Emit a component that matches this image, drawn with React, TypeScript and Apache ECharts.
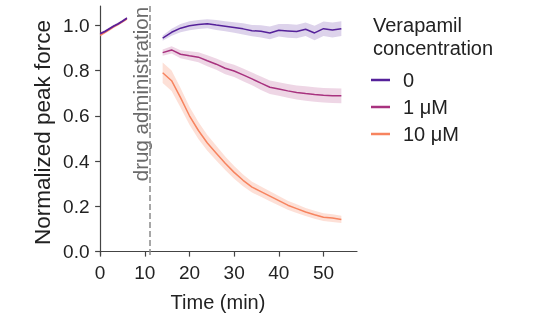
import React, { useEffect, useRef } from "react";
import * as echarts from "echarts";

const timePre = [0, 1, 2, 3, 4, 5, 6];
const timePost = [14, 16, 18, 20, 22, 24, 26, 28, 30, 32, 34, 36, 38, 40, 42, 44, 46, 48, 50, 52, 54];

const ctrlPre = [0.963, 0.972, 0.984, 0.996, 1.006, 1.018, 1.031];
const oneUMPre = [0.962, 0.971, 0.983, 0.995, 1.005, 1.017, 1.030];
const tenUMPre = [0.955, 0.967, 0.980, 0.993, 1.004, 1.016, 1.028];
const errPre = [0.006, 0.006, 0.006, 0.006, 0.006, 0.006, 0.006];

const ctrlPost = [0.943, 0.969, 0.987, 0.998, 1.003, 1.007, 1.001, 0.996, 0.99, 0.984, 0.976, 0.973, 0.966, 0.978, 0.975, 0.972, 0.982, 0.966, 0.985, 0.979, 0.985];
const oneUMPost = [0.879, 0.891, 0.872, 0.865, 0.859, 0.843, 0.828, 0.81, 0.798, 0.781, 0.763, 0.744, 0.726, 0.718, 0.71, 0.703, 0.698, 0.694, 0.691, 0.689, 0.688];
const tenUMPost = [0.79, 0.755, 0.68, 0.6, 0.535, 0.48, 0.435, 0.39, 0.35, 0.315, 0.285, 0.265, 0.245, 0.225, 0.205, 0.19, 0.175, 0.163, 0.152, 0.148, 0.142];

const ctrlErr = [0.012, 0.015, 0.018, 0.02, 0.02, 0.02, 0.022, 0.022, 0.023, 0.025, 0.025, 0.027, 0.028, 0.028, 0.03, 0.03, 0.03, 0.032, 0.032, 0.033, 0.033];
const oneUMErr = [0.014, 0.016, 0.018, 0.02, 0.022, 0.024, 0.025, 0.026, 0.027, 0.028, 0.028, 0.03, 0.03, 0.03, 0.03, 0.031, 0.032, 0.032, 0.032, 0.033, 0.033];
const tenUMErr = [0.045, 0.045, 0.043, 0.04, 0.038, 0.035, 0.033, 0.03, 0.028, 0.026, 0.024, 0.023, 0.022, 0.021, 0.02, 0.019, 0.018, 0.018, 0.017, 0.017, 0.016];

const seriesNames = ["0", "1 μM", "10 μM"];
const yTicks = [0, 0.2, 0.4, 0.6, 0.8, 1.0];
const xTicks = [0, 10, 20, 30, 40, 50];
const drugTime = 11;

const colors = ["#55219a", "#a8327f", "#f7845f"];
const bandColors = ["rgba(85,33,154,0.2)", "rgba(168,50,127,0.2)", "rgba(247,132,95,0.25)"];

const FONT = "Liberation Sans, Arial, sans-serif";

function bandSeries(id: string, times: number[], vals: number[], errs: number[], color: string) {
  return {
    type: "custom",
    name: id,
    silent: true,
    z: 1,
    data: [[times[0], vals[0]]],
    renderItem: (_params: any, api: any) => {
      const upper = times.map((t, i) => api.coord([t, vals[i] + errs[i]]));
      const lower = times.map((t, i) => api.coord([t, vals[i] - errs[i]])).reverse();
      return {
        type: "polygon",
        shape: { points: upper.concat(lower) },
        style: { fill: color },
      };
    },
  };
}

function lineSeries(name: string, times: number[], vals: number[], color: string) {
  return {
    type: "line",
    name,
    data: times.map((t, i) => [t, vals[i]]),
    symbol: "none",
    lineStyle: { width: 1.5, color },
    itemStyle: { color },
    z: 3,
  };
}

export default function App() {
  const ref = useRef<HTMLDivElement>(null);
  useEffect(() => {
    if (!ref.current) return;
    const chart = echarts.init(ref.current, null, { renderer: "svg" });
    const pre = [ctrlPre, oneUMPre, tenUMPre];
    const post = [ctrlPost, oneUMPost, tenUMPost];
    const postErr = [ctrlErr, oneUMErr, tenUMErr];
    const series: any[] = [];
    for (let k = 2; k >= 0; k--) {
      series.push(bandSeries("pre band " + k, timePre, pre[k], errPre, bandColors[k]));
      series.push(bandSeries("post band " + k, timePost, post[k], postErr[k], bandColors[k]));
    }
    for (let k = 2; k >= 0; k--) {
      series.push(lineSeries(seriesNames[k] + " pre", timePre, pre[k], colors[k]));
      series.push(lineSeries(seriesNames[k], timePost, post[k], colors[k]));
    }
    series.push({
      type: "line",
      name: "drug",
      data: [],
      markLine: {
        silent: true,
        symbol: "none",
        label: { show: false },
        lineStyle: { type: [6, 3], color: "#8a8a8a", width: 1.5 },
        data: [{ xAxis: drugTime }],
      },
    });
    chart.setOption({
      animation: false,
      grid: { left: 99, right: 179, top: 6, bottom: 65 },
      xAxis: {
        type: "value",
        min: -0.25,
        max: 57.5,
        splitLine: { show: false },
        axisLine: { lineStyle: { color: "#444", width: 1.2 } },
        axisTick: { customValues: xTicks, length: 5, lineStyle: { color: "#444", width: 1.2 } },
        axisLabel: { customValues: xTicks, margin: 8, fontFamily: FONT, fontSize: 19, color: "#222" },
      },
      yAxis: {
        type: "value",
        min: -0.015,
        max: 1.085,
        splitLine: { show: false },
        axisLine: { show: true, lineStyle: { color: "#444", width: 1.2 } },
        axisTick: { show: true, customValues: yTicks, length: 5, lineStyle: { color: "#444", width: 1.2 } },
        axisLabel: {
          customValues: yTicks,
          margin: 9.5,
          fontFamily: FONT,
          fontSize: 19,
          color: "#222",
          formatter: (v: number) => v.toFixed(1),
        },
      },
      legend: {
        data: seriesNames,
        orient: "vertical",
        left: 366,
        top: 65,
        icon: "rect",
        itemWidth: 19,
        itemHeight: 2.5,
        itemGap: 7,
        textStyle: { fontFamily: FONT, fontSize: 20, lineHeight: 20, color: "#222", padding: [0, 0, 0, 8] },
      },
      graphic: [
        {
          type: "text",
          left: 373,
          top: 13,
          style: {
            text: "Verapamil\nconcentration",
            fontFamily: FONT,
            fontSize: 20,
            lineHeight: 23.5,
            fill: "#222",
          },
        },
        {
          type: "text",
          x: 140,
          y: 94,
          rotation: Math.PI / 2,
          style: {
            text: "drug administration",
            fontFamily: FONT,
            fontSize: 20.5,
            fill: "#6a6a6a",
            align: "center",
            verticalAlign: "middle",
          },
        },
        {
          type: "text",
          x: 42,
          y: 132.5,
          rotation: Math.PI / 2,
          style: {
            text: "Normalized peak force",
            fontFamily: FONT,
            fontSize: 22.5,
            fill: "#222",
            align: "center",
            verticalAlign: "middle",
          },
        },
        {
          type: "text",
          x: 218,
          y: 302,
          style: {
            text: "Time (min)",
            fontFamily: FONT,
            fontSize: 20,
            fill: "#222",
            align: "center",
            verticalAlign: "middle",
          },
        },
      ],
      series,
    });
    return () => chart.dispose();
  }, []);
  return <div ref={ref} style={{ position: "fixed", left: 0, top: 0, width: 536, height: 320 }} />;
}
